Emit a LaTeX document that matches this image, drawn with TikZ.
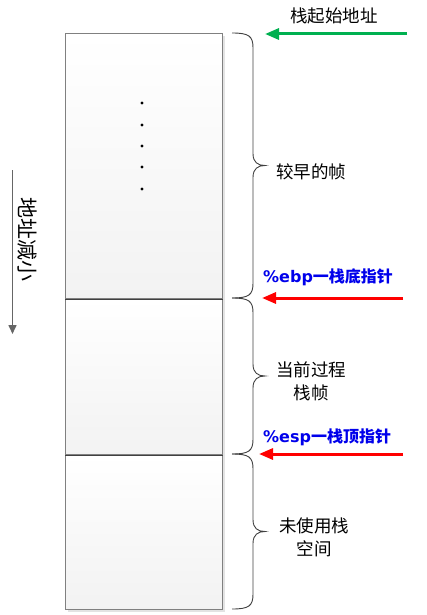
\documentclass[tikz,border=0pt]{standalone}
\usepackage{fontspec}
\setmainfont{DejaVu Sans}
\newfontfamily\cjk{Noto Sans CJK SC}
\newfontfamily\lat{DejaVu Sans}
\usetikzlibrary{arrows.meta,shadows}
\definecolor{arrgreen}{RGB}{0,176,80}
\definecolor{arrred}{RGB}{255,0,0}
\definecolor{txtblue}{RGB}{0,0,235}
\definecolor{boxline}{RGB}{128,128,128}
\tikzset{
  seg/.style={rectangle, draw=boxline, line width=1.1pt, minimum width=157pt, inner sep=0pt,
    top color=white, bottom color=gray!10, anchor=north west},
  lbl/.style={font=\cjk\fontsize{17.5}{23}\selectfont, align=center, inner sep=0pt, text=black},
  ptr/.style={font=\bfseries\fontsize{16}{20}\selectfont, text=txtblue, inner sep=0pt},
  bigarrow/.style={line width=3pt, -{Triangle[length=14pt,width=11pt]}},
  bracepath/.style={draw=black!75, line width=0.9pt},
  dot/.style={circle, fill=black, inner sep=0pt, minimum size=3.4pt},
}
\begin{document}
\begin{tikzpicture}[x=1pt,y=-1pt]
\useasboundingbox (0,0) rectangle (426,615);
% shadow
\fill[gray!22] (68,36) rectangle (225,612);
% stack segments
\node[seg, minimum height=265pt] (s1) at (65,33) {};
\node[seg, minimum height=156pt] (s2) at (65,298) {};
\node[seg, minimum height=155pt] (s3) at (65,454) {};
\draw[black!75, line width=1pt] (s1.south west) -- (s1.south east);
\draw[black!75, line width=1pt] (s2.south west) -- (s2.south east);
% dots
\node[dot] (d1) at (142,103) {};
\node[dot] (d2) at (142,125) {};
\node[dot] (d3) at (142,146) {};
\node[dot] (d4) at (142,167) {};
\node[dot] (d5) at (142,189) {};
% braces
\foreach \ya/\yb in {33/298, 298/454, 454/609}{
  \pgfmathsetmacro\ym{(\ya+\yb)/2}
  \draw[bracepath] (232,\ya) .. controls (249,\ya) and (253,\ya+3) .. (253,\ya+15)
    -- (253,\ym-12) .. controls (253,\ym-3) and (258,\ym) .. (265,\ym)
    .. controls (258,\ym) and (253,\ym+3) .. (253,\ym+12)
    -- (253,\yb-15) .. controls (253,\yb-3) and (249,\yb) .. (232,\yb);
}
% labels
\node[lbl] (top) at (334,16) {栈起始地址};
\node[lbl] (early) at (311,172) {较早的帧};
\node[lbl] (cur) at (311,381) {当前过程\\栈帧};
\node[lbl] (unused) at (314,537) {未使用栈\\空间};
\node[ptr, anchor=west] (ebp) at (263,277) {\lat\%ebp\cjk 一栈底指针};
\node[ptr, anchor=west] (esp) at (263,437) {\lat\%esp\cjk 一栈顶指针};
% arrows
\coordinate (g1) at (407,34); \coordinate (g2) at (265,34);
\coordinate (r1) at (403,298); \coordinate (r2) at (262,298);
\coordinate (q1) at (403,454); \coordinate (q2) at (259,454);
\draw[bigarrow, arrgreen] (g1) -- (g2);
\draw[bigarrow, arrred] (r1) -- (r2);
\draw[bigarrow, arrred] (q1) -- (q2);
% address decreasing
\coordinate (a1) at (12.5,170); \coordinate (a2) at (12.5,334);
\draw[black!60, line width=1.6pt, -{Triangle[length=9pt,width=8pt]}] (a1) -- (a2);
\node[lbl, rotate=-90, font=\cjk\fontsize{21}{23}\selectfont] (dec) at (27,239) {地址减小};
\end{tikzpicture}
\end{document}
